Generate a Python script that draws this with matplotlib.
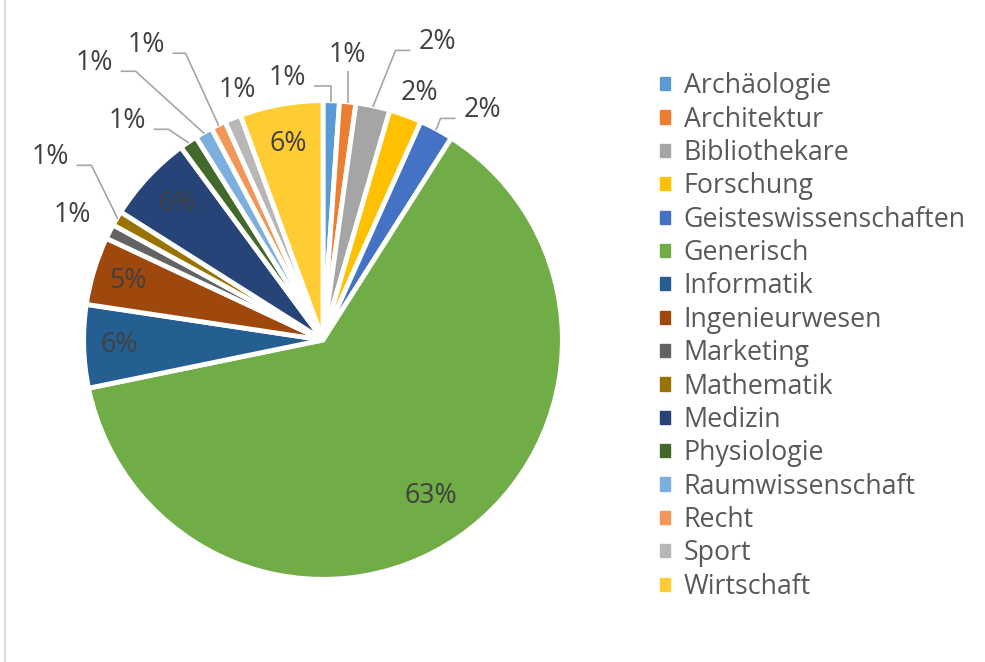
import numpy as np
import matplotlib
matplotlib.use('Agg')
import matplotlib.pyplot as plt
from matplotlib.patches import Patch
from matplotlib.lines import Line2D

# Daten (Anteile in %, aus dem Bild geschaetzt)
categories = ['Archäologie', 'Architektur', 'Bibliothekare', 'Forschung',
              'Geisteswissenschaften', 'Generisch', 'Informatik', 'Ingenieurwesen',
              'Marketing', 'Mathematik', 'Medizin', 'Physiologie',
              'Raumwissenschaft', 'Recht', 'Sport', 'Wirtschaft']
values = [1.1, 1.1, 2.3, 2.2, 2.3, 62.7, 5.6, 4.6,
          1.0, 1.0, 5.9, 1.2, 1.2, 1.0, 1.1, 5.6]
colors = ['#5B9BD5', '#ED7D31', '#A5A5A5', '#FFC000', '#4472C4', '#70AD47',
          '#255E91', '#9E480E', '#636363', '#997300', '#264478', '#43682B',
          '#7CAFDD', '#F1975A', '#B7B7B7', '#FFCD33']

# Beschriftungen innen: Radius
inside = {'Generisch': 0.80, 'Informatik': 0.86, 'Ingenieurwesen': 0.86,
          'Medizin': 0.84, 'Wirtschaft': 0.84}
# Beschriftungen aussen: (x, y, Fuehrungslinie, Knicklaenge)
outside = {
    'Archäologie': (-0.152, 1.105, 'right', None),
    'Architektur': (0.101, 1.203, 'down', None),
    'Bibliothekare': (0.481, 1.257, 'left', 0.063),
    'Forschung': (0.409, 1.042, None, None),
    'Geisteswissenschaften': (0.671, 0.970, 'left', 0.063),
    'Marketing': (-1.059, 0.527, None, None),
    'Mathematik': (-1.152, 0.772, 'right', 0.063),
    'Physiologie': (-0.827, 0.924, 'right', 0.063),
    'Raumwissenschaft': (-0.966, 1.169, 'right', 0.063),
    'Recht': (-0.747, 1.245, 'right', 0.055),
    'Sport': (-0.363, 1.055, None, None),
}

plt.rcParams['font.family'] = ['Open Sans', 'DejaVu Sans']
fs = 19.3
txt_col = '#595959'

W, H = 985, 662
cx, cy, R = 323, H - 340, 237
ext = 1.35
fig = plt.figure(figsize=(W / 100, H / 100), dpi=100)
ax = fig.add_axes([(cx - ext * R) / W, (cy - ext * R) / H, 2 * ext * R / W, 2 * ext * R / H])

wedges, _ = ax.pie(values, colors=colors, startangle=90, counterclock=False, radius=1.01,
                   wedgeprops=dict(edgecolor='white', linewidth=3.5))
ax.set_xlim(-ext, ext)
ax.set_ylim(-ext, ext)
ax.axis('off')

total = sum(values)
for w, v, name in zip(wedges, values, categories):
    mid = np.deg2rad((w.theta1 + w.theta2) / 2)
    pct = f"{v / total * 100:.0f}%"
    if name in inside:
        r = inside[name]
        ax.text(r * np.cos(mid), r * np.sin(mid), pct, ha='center', va='center',
                fontsize=fs, color='#404040')
        continue
    lx, ly, leader, elbow = outside[name]
    ax.text(lx, ly, pct, ha='center', va='center', fontsize=fs, color='#404040')
    ex, ey = 1.005 * np.cos(mid), 1.005 * np.sin(mid)
    if leader == 'down':
        xs, ys = [ex, ex], [ly - 0.068, ey]
    elif leader in ('right', 'left'):
        s = 1 if leader == 'right' else -1
        sx, sy = lx + s * 0.112, ly - 0.035
        kx = ex if elbow is None else sx + s * elbow
        xs, ys = [sx, kx, ex], [sy, sy, ey]
    else:
        continue
    ax.plot(xs, ys, color='#A6A6A6', lw=1.2, solid_capstyle='butt', zorder=5)

handles = [Patch(facecolor=c, edgecolor=c) for c in colors]
fig.legend(handles, categories, loc='center left', bbox_to_anchor=(660 / W, 1 - 336.5 / H),
           frameon=False, fontsize=fs, handlelength=0.38, handleheight=0.38,
           handletextpad=0.5, labelspacing=0.2, borderpad=0, borderaxespad=0,
           labelcolor=txt_col)

fig.add_artist(Line2D([5 / W, 5 / W], [0, 1], color='#D9D9D9', lw=1.5,
                      transform=fig.transFigure))

fig.savefig('out.png', dpi=100)
